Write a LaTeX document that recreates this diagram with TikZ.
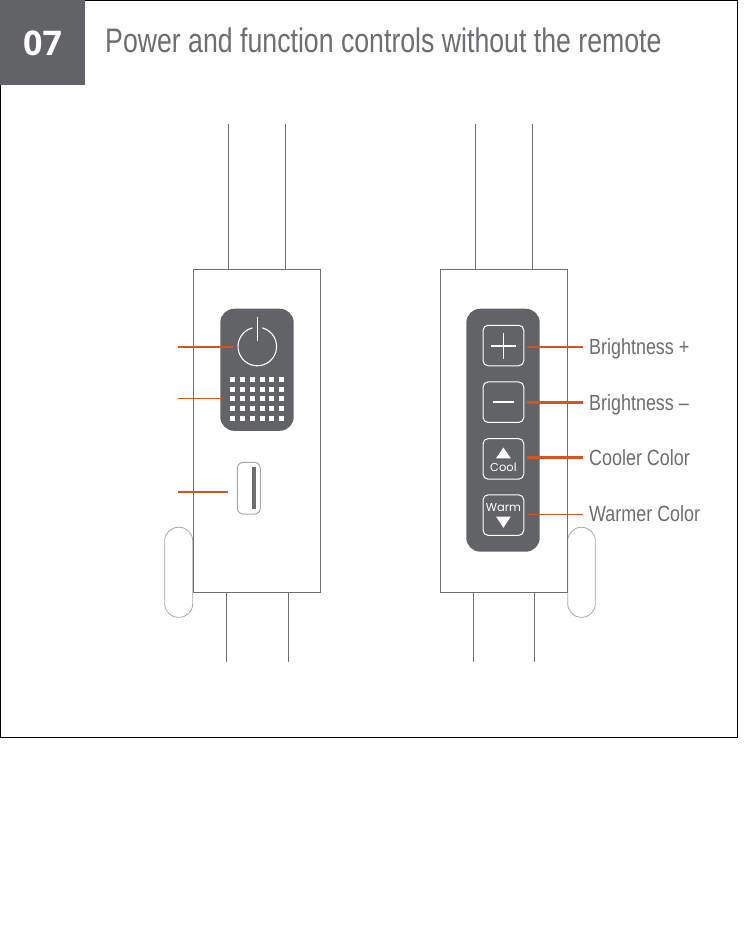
\documentclass[tikz,border=0pt]{standalone}
\usepackage{fontspec}
\setmainfont{Liberation Sans}
\newfontfamily\titlef[FakeStretch=0.785]{Liberation Sans}
\newfontfamily\labf[FakeStretch=0.815]{Liberation Sans}
\newfontfamily\numf{Open Sans}
\newfontfamily\btnf{Poppins}
\definecolor{panelgray}{HTML}{626366}
\definecolor{linegray}{HTML}{6D6E71}
\definecolor{pillgray}{HTML}{A8A9AB}
\definecolor{lead}{HTML}{D9531E}
\tikzset{
  body/.style={draw=linegray,line width=1pt,fill=white,inner sep=0pt},
  cable/.style={draw=linegray,line width=1pt},
  panel/.style={fill=panelgray,rounded corners=14pt},
  pill/.style={draw=pillgray,line width=0.8pt,fill=white,rounded corners=13.5pt},
  btn/.style={draw=white,line width=1pt,rounded corners=5pt,minimum width=40.7pt,minimum height=40.5pt,inner sep=0pt,text=white},
  leadthin/.style={draw=lead,line width=1.25pt},
  leadthick/.style={draw=lead,line width=2.1pt},
  lab/.style={anchor=west,text=linegray,inner sep=0pt,text height=20pt,text depth=5pt,font=\labf\fontsize{22}{24}\selectfont},
  dot/.style={fill=white},
  glyphline/.style={draw=white,line width=1.1pt},
}
\begin{document}
\begin{tikzpicture}[x=1pt,y=-1pt]
\useasboundingbox (0,0) rectangle (746,936);
\fill[white] (0,0) rectangle (746,936);
% frame and header
\draw[black,line width=1pt] (0.5,85) -- (0.5,737.5) -- (737.5,737.5) -- (737.5,0.5) -- (0,0.5);
\fill[panelgray] (0,0) rectangle (85,85.5);
\node[text=white,font=\numf\bfseries\fontsize{34}{38}\selectfont,inner sep=0pt] (num) at (42.5,43) {07};
\node[anchor=west,text=linegray,inner sep=0pt,font=\titlef\fontsize{34}{36}\selectfont] (title) at (105,40.5) {Power and function controls without the remote};

% left device
\draw[cable] (228.5,124) -- (228.5,269) (285.5,124) -- (285.5,269);
\draw[cable] (226.3,592) -- (226.3,662) (288.3,592) -- (288.3,662);
\draw[pill] (164.7,527.3) rectangle (192.7,617.3);
\draw[body] (193.3,269) rectangle (320.3,592.3);
\fill[panel] (220.3,308.7) rectangle (293.7,430.8);
\node[circle,minimum size=38.6pt,inner sep=0pt] (power) at (257.3,346.5) {};
\draw[glyphline] (power.center) ++(75:19.3pt) arc[start angle=75,end angle=-255,radius=19.3pt];
\draw[glyphline] (257.3,316.7) -- (257.3,340.7);
\foreach \x in {232.3,242.3,252.3,262.3,271.7,281.3}
  \foreach \y in {379.3,389.3,398.3,408.3,418.3}
    \fill[dot] (\x-2.4,\y-2.4) rectangle (\x+2.4,\y+2.4);
\node[minimum width=61pt,minimum height=48pt,inner sep=0pt] (grid) at (256.8,398.4) {};
\node[draw=pillgray,line width=1pt,rounded corners=6pt,minimum width=23pt,minimum height=51.7pt,inner sep=0pt] (slider) at (248.8,488.2) {};
\fill[linegray] (252,467.3) rectangle (256,509.3);
\coordinate (lp) at (178,347);
\coordinate (lg) at (178,398.4);
\coordinate (ls) at (178,492);
\draw[leadthin,shorten >=5pt] (lp) -- (power.west |- lp);
\draw[leadthin,shorten >=1.8pt] (lg) -- (grid.west |- lg);
\draw[leadthin,shorten >=9.3pt] (ls) -- (slider.west |- ls);

% right device
\draw[cable] (475,124) -- (475,269) (532,124) -- (532,269);
\draw[cable] (473.3,592) -- (473.3,662) (534.3,592) -- (534.3,662);
\draw[pill] (567.7,527.3) rectangle (595.3,617.3);
\draw[body] (440.3,269) rectangle (567.3,592.3);
\fill[panel] (466.3,308.7) rectangle (539.7,551.7);
\node[btn] (bplus) at (503.4,345.5) {};
\draw[glyphline] (503.4,332.5) -- (503.4,358.5) (490.5,346) -- (516.3,346);
\node[btn] (bminus) at (503.4,402.2) {};
\draw[glyphline] (492.5,402) -- (514.3,402);
\node[btn] (bcool) at (503.4,458.9) {};
\fill[white] (503.4,447.5) -- (510.8,458.3) -- (496,458.3) -- cycle;
\node[text=white,inner sep=0pt,font=\btnf\fontsize{11.5}{12}\selectfont] (cool) at (503.4,467.5) {Cool};
\node[btn] (bwarm) at (503.4,515.1) {};
\fill[white] (503.4,527.8) -- (510.8,516.5) -- (496,516.5) -- cycle;
\node[text=white,inner sep=0pt,font=\btnf\fontsize{11.5}{12}\selectfont] (warm) at (503.4,507.2) {Warm};
\node[lab] (tplus) at (589,347) {Brightness +};
\node[lab] (tminus) at (589,402.5) {Brightness –};
\node[lab] (tcool) at (589,457.5) {Cooler Color};
\node[lab] (twarm) at (589,514.3) {Warmer Color};
\draw[leadthin,shorten <=2.3pt,shorten >=6pt] (bplus.east |- tplus) -- (tplus.west);
\draw[leadthick,shorten <=2.3pt,shorten >=6pt] (bminus.east |- tminus) -- (tminus.west);
\draw[leadthick,shorten <=2.3pt,shorten >=6pt] (bcool.east |- tcool) -- (tcool.west);
\draw[leadthin,shorten <=2.3pt,shorten >=6pt] (bwarm.east |- twarm) -- (twarm.west);
\end{tikzpicture}
\end{document}
